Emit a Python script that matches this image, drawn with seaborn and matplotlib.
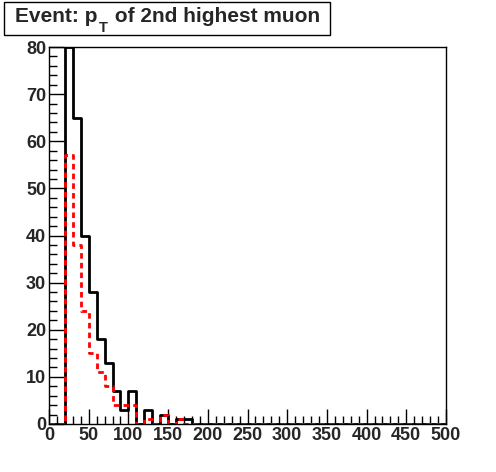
import matplotlib.pyplot as plt
import matplotlib.patches as mpatches
from matplotlib.ticker import MultipleLocator
import seaborn as sns
import pandas as pd

# bin edges of the histogram (GeV)
bin_edges = list(range(0, 510, 10))
bin_centers = [e + 5 for e in bin_edges[:-1]]

# counts per 10 GeV bin (first 18 bins, rest zero)
black_counts = [0, 0, 80, 65, 40, 28, 18, 13, 7, 3, 7, 0, 3, 0, 2, 0, 1, 1]
red_counts = [0, 0, 57, 38, 24, 15, 11, 8, 4, 4, 4, 0, 1, 0, 2, 0, 1, 0]
black_counts = black_counts + [0] * (50 - len(black_counts))
red_counts = red_counts + [0] * (50 - len(red_counts))

df = pd.DataFrame({'pt': bin_centers, 'black': black_counts, 'red': red_counts})

title_parts = ["Event: p", "T", " of 2nd highest muon"]

sns.set_style("white")
plt.rcParams['font.family'] = ['Liberation Sans', 'DejaVu Sans']

W, H = 496, 472
fig = plt.figure(figsize=(W / 100, H / 100), dpi=100)
ax = fig.add_axes([49 / W, (H - 424) / H, (446 - 49) / W, (424 - 47) / H])

sns.histplot(data=df, x='pt', weights='black', bins=bin_edges, element='step',
             fill=False, color='black', linewidth=2, ax=ax)
sns.histplot(data=df, x='pt', weights='red', bins=bin_edges, element='step',
             fill=False, color='red', linewidth=2, linestyle=(0, (2, 1.5)), ax=ax)

ax.set_xlim(0, 500)
ax.set_ylim(0, 80)
ax.set_xlabel('')
ax.set_ylabel('')
ax.xaxis.set_major_locator(MultipleLocator(50))
ax.xaxis.set_minor_locator(MultipleLocator(10))
ax.yaxis.set_major_locator(MultipleLocator(10))
ax.yaxis.set_minor_locator(MultipleLocator(2))
ax.tick_params(which='both', direction='in', top=False, right=False,
               bottom=True, left=True, width=1, color='black')
ax.tick_params(which='major', length=11, labelsize=13, pad=2)
ax.tick_params(which='minor', length=5.5)
for lab in ax.get_xticklabels() + ax.get_yticklabels():
    lab.set_fontweight('bold')
for s in ax.spines.values():
    s.set_color('black')
    s.set_linewidth(1)

# title box in the top-left corner
box = mpatches.Rectangle((4 / W, 1 - 35 / H), (330 - 4) / W, (35 - 2) / H,
                         transform=fig.transFigure, facecolor='white',
                         edgecolor='black', linewidth=1)
fig.patches.append(box)

renderer = fig.canvas.get_renderer()
base_y = 1 - 22 / H
t1 = fig.text(15 / W, base_y, title_parts[0], fontsize=15, fontweight='bold',
              ha='left', va='baseline')
x1 = t1.get_window_extent(renderer).x1 / W
t2 = fig.text(x1 + 1 / W, base_y - 10 / H, title_parts[1], fontsize=10.5,
              fontweight='bold', ha='left', va='baseline')
x2 = t2.get_window_extent(renderer).x1 / W
fig.text(x2 + 2 / W, base_y, title_parts[2], fontsize=15, fontweight='bold',
         ha='left', va='baseline')

fig.savefig('out.png', dpi=100)
